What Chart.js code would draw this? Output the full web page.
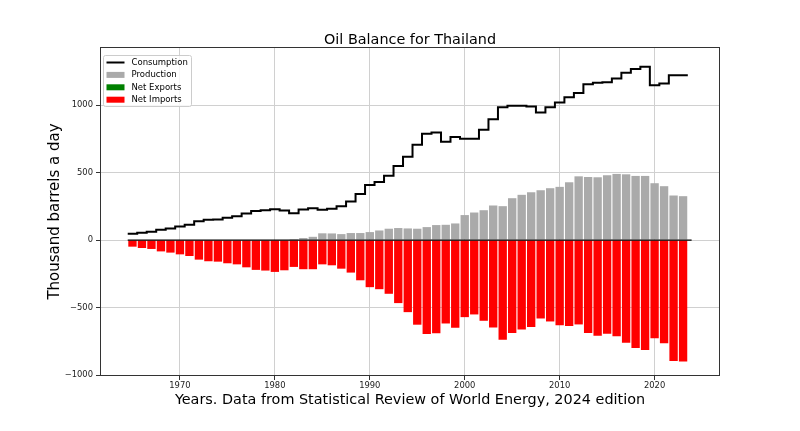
<!DOCTYPE html>
<html>
<head>
<meta charset="utf-8">
<title>Oil Balance for Thailand</title>
<script src="https://cdn.jsdelivr.net/npm/chart.js@4.4.1/dist/chart.umd.min.js"></script>
<style>
  body { margin: 0; background: #fff; }
  #wrap { width: 800px; height: 431px; }
</style>
</head>
<body>
<div id="wrap"><canvas id="myChart" width="800" height="431"></canvas></div>
<script>
// LES DONNEES : ---------------------------------------------------

const years = [
  1965, 1966, 1967, 1968, 1969, 1970, 1971, 1972, 1973, 1974,
  1975, 1976, 1977, 1978, 1979, 1980, 1981, 1982, 1983, 1984,
  1985, 1986, 1987, 1988, 1989, 1990, 1991, 1992, 1993, 1994,
  1995, 1996, 1997, 1998, 1999, 2000, 2001, 2002, 2003, 2004,
  2005, 2006, 2007, 2008, 2009, 2010, 2011, 2012, 2013, 2014,
  2015, 2016, 2017, 2018, 2019, 2020, 2021, 2022, 2023
];

// thousand barrels a day
const consumption = [
  47, 54, 61, 76, 86, 101, 113, 140, 150, 152,
  165, 177, 197, 216, 221, 229, 219, 199, 226, 236,
  224, 231, 251, 285, 342, 408, 430, 477, 549, 617,
  706, 787, 797, 728, 763, 750, 750, 817, 895, 984,
  994, 994, 989, 945, 984, 1018, 1058, 1090, 1154, 1166,
  1169, 1196, 1240, 1267, 1284, 1146, 1159, 1220, 1220
];

const production = [
  0, 0, 0, 0, 0, 0, 0, 0, 0, 0,
  0, 0, 0, 0, 0, 0, 0, 7, 15, 24,
  50, 49, 44, 52, 52, 59, 71, 84, 89, 86,
  84, 96, 111, 113, 123, 185, 204, 221, 256, 251,
  310, 335, 354, 369, 384, 394, 428, 472, 467, 465,
  480, 490, 487, 475, 475, 421, 399, 330, 325
];

const netExports = [
  0, 0, 0, 0, 0, 0, 0, 0, 0, 0,
  0, 0, 0, 0, 0, 0, 0, 0, 0, 0,
  0, 0, 0, 0, 0, 0, 0, 0, 0, 0,
  0, 0, 0, 0, 0, 0, 0, 0, 0, 0,
  0, 0, 0, 0, 0, 0, 0, 0, 0, 0,
  0, 0, 0, 0, 0, 0, 0, 0, 0
];

const netImports = [
  -49, -59, -66, -84, -93, -106, -118, -145, -157, -160,
  -172, -180, -202, -221, -226, -236, -224, -199, -216, -216,
  -180, -187, -212, -241, -298, -349, -364, -398, -467, -534,
  -627, -696, -691, -618, -649, -571, -551, -598, -647, -738,
  -689, -662, -644, -581, -603, -632, -637, -625, -689, -708,
  -694, -713, -760, -800, -814, -728, -765, -895, -900
];

const xTicks = [1970, 1980, 1990, 2000, 2010, 2020];
const yTicks = [-1000, -500, 0, 500, 1000];

const titleText = 'Oil Balance for Thailand';
const xTitle = 'Years. Data from Statistical Review of World Energy, 2024 edition';
const yTitle = 'Thousand barrels a day';

// LES FONCTIONS : ---------------------------------------------------

const FONT = "'DejaVu Sans', sans-serif";
Chart.defaults.font.family = FONT;

function points(values) {
  return years.map((yr, i) => ({ x: yr, y: values[i] }));
}

// marches centrées sur chaque année (de yr-0.5 à yr+0.5)
function stepPoints(values) {
  const pts = years.map((yr, i) => ({ x: yr - 0.5, y: values[i] }));
  pts.push({ x: years[years.length - 1] + 0.5, y: values[values.length - 1] });
  return pts;
}

const legendItems = [
  { label: 'Consumption', kind: 'line', color: '#000000' },
  { label: 'Production', kind: 'box', color: '#aaaaaa' },
  { label: 'Net Exports', kind: 'box', color: '#008000' },
  { label: 'Net Imports', kind: 'box', color: '#ff0000' }
];

const extras = {
  id: 'extras',
  afterDraw(chart) {
    const c = chart.ctx;
    const a = chart.chartArea;
    c.save();
    // cadre
    c.strokeStyle = '#333';
    c.lineWidth = 1;
    c.strokeRect(a.left + 0.5, a.top + 0.5, a.right - a.left - 1, a.bottom - a.top - 1);
    // titre
    c.fillStyle = '#000';
    c.font = '14.4px ' + FONT;
    c.textAlign = 'center';
    c.textBaseline = 'alphabetic';
    c.fillText(titleText, (a.left + a.right) / 2, 43.7);
    // légende
    const lx = a.left + 3.5, ly = a.top + 8.5, lw = 88, lh = 51;
    c.fillStyle = 'rgba(255,255,255,0.8)';
    c.strokeStyle = '#cccccc';
    c.beginPath();
    c.roundRect(lx, ly, lw, lh, 2);
    c.fill();
    c.stroke();
    c.font = '8.5px ' + FONT;
    c.textAlign = 'left';
    c.textBaseline = 'middle';
    legendItems.forEach((it, i) => {
      const y = ly + 7 + i * 12.4;
      if (it.kind === 'line') {
        c.strokeStyle = it.color;
        c.lineWidth = 2;
        c.beginPath();
        c.moveTo(lx + 3, y);
        c.lineTo(lx + 21, y);
        c.stroke();
      } else {
        c.fillStyle = it.color;
        c.fillRect(lx + 3, y - 3, 18, 6);
      }
      c.fillStyle = '#000';
      c.fillText(it.label, lx + 28, y);
    });
    c.restore();
  }
};

const barOpts = {
  grouped: false,
  barPercentage: 0.88,
  categoryPercentage: 1.0,
  borderWidth: 0,
  order: 2
};

const ctx = document.getElementById('myChart');

const myChart = new Chart(ctx, {
  type: 'bar',
  data: {
    datasets: [
      Object.assign({ label: 'Production', data: points(production), backgroundColor: '#aaaaaa' }, barOpts),
      Object.assign({ label: 'Net Exports', data: points(netExports), backgroundColor: '#008000' }, barOpts),
      Object.assign({ label: 'Net Imports', data: points(netImports), backgroundColor: '#ff0000' }, barOpts),
      {
        type: 'line',
        label: 'zero',
        data: [{ x: years[0] - 0.5, y: 0 }, { x: years[years.length - 1] + 0.9, y: 0 }],
        borderColor: '#000',
        borderWidth: 1.3,
        pointRadius: 0,
        order: 1
      },
      {
        type: 'line',
        label: 'Consumption',
        data: stepPoints(consumption),
        stepped: 'before',
        borderColor: '#000',
        borderWidth: 2,
        borderJoinStyle: 'miter',
        pointRadius: 0,
        fill: false,
        order: 0
      }
    ]
  },
  options: {
    responsive: false,
    animation: false,
    devicePixelRatio: 1,
    layout: { padding: { left: 0, top: 47, right: 80, bottom: 0 } },
    plugins: {
      legend: { display: false },
      tooltip: { enabled: false },
      title: { display: false }
    },
    scales: {
      x: {
        type: 'linear',
        min: 1961.58,
        max: 2026.89,
        offset: false,
        afterBuildTicks: s => { s.ticks = xTicks.map(v => ({ value: v })); },
        afterFit: s => { s.height = 55; },
        border: { display: false },
        grid: { offset: false, color: '#d0d0d0', lineWidth: 1, tickColor: '#333', tickLength: 4 },
        ticks: {
          font: { size: 8.4 },
          color: '#222',
          padding: 1,
          maxRotation: 0,
          autoSkip: false,
          callback: v => String(v)
        },
        title: {
          display: true,
          text: xTitle,
          color: '#000',
          font: { size: 14.4 },
          padding: { top: 0, bottom: 22 }
        }
      },
      y: {
        min: -1007,
        max: 1430,
        afterBuildTicks: s => { s.ticks = yTicks.map(v => ({ value: v })); },
        afterFit: s => { s.width = 100; },
        border: { display: false },
        grid: { color: '#d0d0d0', lineWidth: 1, tickColor: '#333', tickLength: 4 },
        ticks: {
          font: { size: 8.4 },
          color: '#222',
          padding: 3,
          callback: v => (v < 0 ? '\u2212' + Math.abs(v) : String(v))
        },
        title: {
          display: true,
          text: yTitle,
          color: '#000',
          font: { size: 15 },
          padding: { top: 46, bottom: 0 }
        }
      }
    }
  },
  plugins: [extras]
});
</script>
</body>
</html>
